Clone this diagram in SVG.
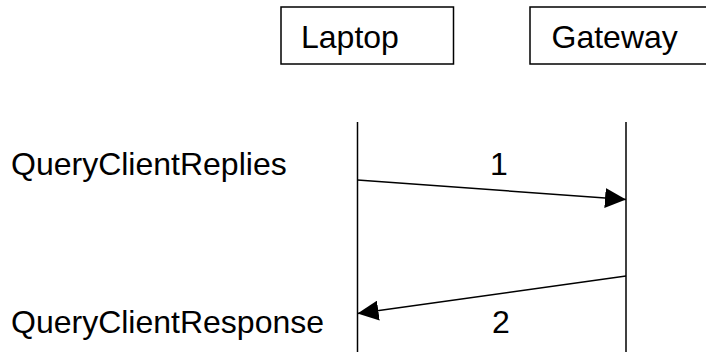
<svg xmlns="http://www.w3.org/2000/svg" width="706" height="352" viewBox="0 0 706 352">
<style>
text{font-family:"Liberation Sans",Arial,sans-serif;font-size:32px;fill:#000}
.box{fill:#fff;stroke:#000;stroke-width:1.5}
.ln{stroke:#000;stroke-width:1.5;fill:none}
</style>
<defs>
<marker id="ah" markerUnits="userSpaceOnUse" markerWidth="22" markerHeight="20" refX="21" refY="10" orient="auto">
<path d="M0,0 L21,10 L0,20 Z" fill="#000"/>
</marker>
</defs>
<rect width="706" height="352" fill="#fff"/>
<g id="laptop">
<rect class="box" x="281" y="7" width="172.5" height="57"/>
<text x="301" y="48">Laptop</text>
</g>
<g id="gateway">
<rect class="box" x="530" y="7" width="190" height="57"/>
<text x="551.5" y="48">Gateway</text>
</g>
<g id="labels">
<text x="11" y="175">QueryClientReplies</text>
<text x="11" y="333">QueryClientResponse</text>
</g>
<g id="connectors">
<line class="ln" x1="357.5" y1="122" x2="357.5" y2="352"/>
<line class="ln" x1="626" y1="122" x2="626" y2="352"/>
<line class="ln" x1="357.5" y1="180" x2="626" y2="199.5" marker-end="url(#ah)"/>
<line class="ln" x1="626" y1="276" x2="357.5" y2="313.5" marker-end="url(#ah)"/>
<text x="499" y="175" text-anchor="middle">1</text>
<text x="501" y="333" text-anchor="middle">2</text>
</g>
</svg>
